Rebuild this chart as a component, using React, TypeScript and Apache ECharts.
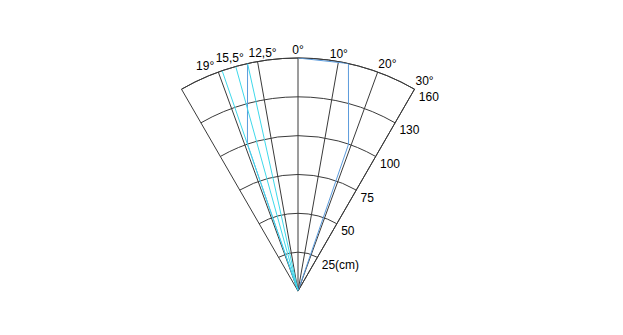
import React, { useEffect, useRef } from 'react';
import * as echarts from 'echarts';

// ---- data ----
const radiusCategories = [0, 25, 50, 75, 100, 130, 160];
const radiusUnit = '(cm)';
const angleMin = -30;
const angleMax = 30;
const angleStep = 10;
// cyan beam edges: bearing in degrees (negative = left of 0°)
const cyanBearings = [-19, -15.5, -12.5];
const cyanLabels = ['19°', '15,5°', '12,5°'];
// blue detection boundary: [radius cm, bearing deg]
const blueLeft = [
  [0, -19],
  [100, -19],
  [160, -12.5],
];
const blueRight = [
  [0, 19],
  [100, 19],
  [160, 12.5],
  [160, 0],
];

// ---- styling (not data) ----
const GRID = '#3a3a3a';
const CYAN = '#3fd8ea';
const BLUE = '#5b9bdc';
const FONT = 'Liberation Sans, Arial, Helvetica, sans-serif';
// label centre relative to the end point of each cyan line (px)
const cyanLabelPos = [
  [-17, -5],
  [-6, -8],
  [15, -11],
];

const toPoint = (p: number[]) => [radiusCategories.indexOf(p[0]), -p[1]];

export default function App() {
  const ref = useRef<HTMLDivElement>(null);
  useEffect(() => {
    if (!ref.current) return;
    const chart = echarts.init(ref.current, null, { renderer: 'svg' });
    const outer = radiusCategories[radiusCategories.length - 1];

    const series: any[] = [
      {
        type: 'line',
        coordinateSystem: 'polar',
        data: blueLeft.map(toPoint),
        symbol: 'none',
        clip: false,
        lineStyle: { color: BLUE, width: 1 },
        z: 3,
      },
      {
        type: 'line',
        coordinateSystem: 'polar',
        data: blueRight.map(toPoint),
        symbol: 'none',
        clip: false,
        lineStyle: { color: BLUE, width: 1 },
        z: 3,
      },
      ...cyanBearings.map((b, i) => ({
        type: 'line',
        coordinateSystem: 'polar',
        symbol: 'circle',
        symbolSize: 0,
        showSymbol: true,
        clip: false,
        itemStyle: { color: CYAN },
        lineStyle: { color: CYAN, width: 1 },
        z: 4,
        data: [
          toPoint([0, b]),
          {
            value: toPoint([outer, b]),
            label: {
              show: true,
              position: cyanLabelPos[i],
              align: 'center',
              verticalAlign: 'middle',
              formatter: cyanLabels[i],
              color: '#000',
              fontSize: 12,
              fontFamily: FONT,
            },
          },
        ],
      })),
    ];

    chart.setOption({
      animation: false,
      polar: { center: [298, 291], radius: 233 },
      angleAxis: {
        type: 'value',
        min: angleMin,
        max: angleMax,
        interval: angleStep,
        startAngle: 60,
        endAngle: 120,
        clockwise: false,
        axisLine: { show: true, lineStyle: { color: GRID, width: 1 } },
        axisTick: { show: false },
        splitLine: { show: true, lineStyle: { color: GRID, width: 1 } },
        axisLabel: {
          show: true,
          margin: 2,
          color: '#000',
          fontSize: 12,
          fontFamily: FONT,
          formatter: (v: number) => (v <= 0 ? `${Math.abs(v)}°` : ''),
        },
      },
      radiusAxis: {
        type: 'category',
        data: radiusCategories.map(String),
        boundaryGap: false,
        axisLine: { show: true, lineStyle: { color: GRID, width: 1 } },
        axisTick: { show: false },
        splitLine: { show: true, interval: 0, lineStyle: { color: GRID, width: 1 } },
        axisLabel: {
          show: true,
          interval: 0,
          margin: -5,
          align: 'left',
          verticalAlign: 'top',
          lineHeight: 10,
          color: '#000',
          fontSize: 12,
          fontFamily: FONT,
          formatter: (v: string, i: number) =>
            i === 0 ? '' : i === 1 ? `${v}${radiusUnit}` : v,
        },
      },
      series,
    });
    return () => chart.dispose();
  }, []);
  return (
    <div
      ref={ref}
      style={{ position: 'absolute', left: 0, top: 0, width: 623, height: 335 }}
    />
  );
}
